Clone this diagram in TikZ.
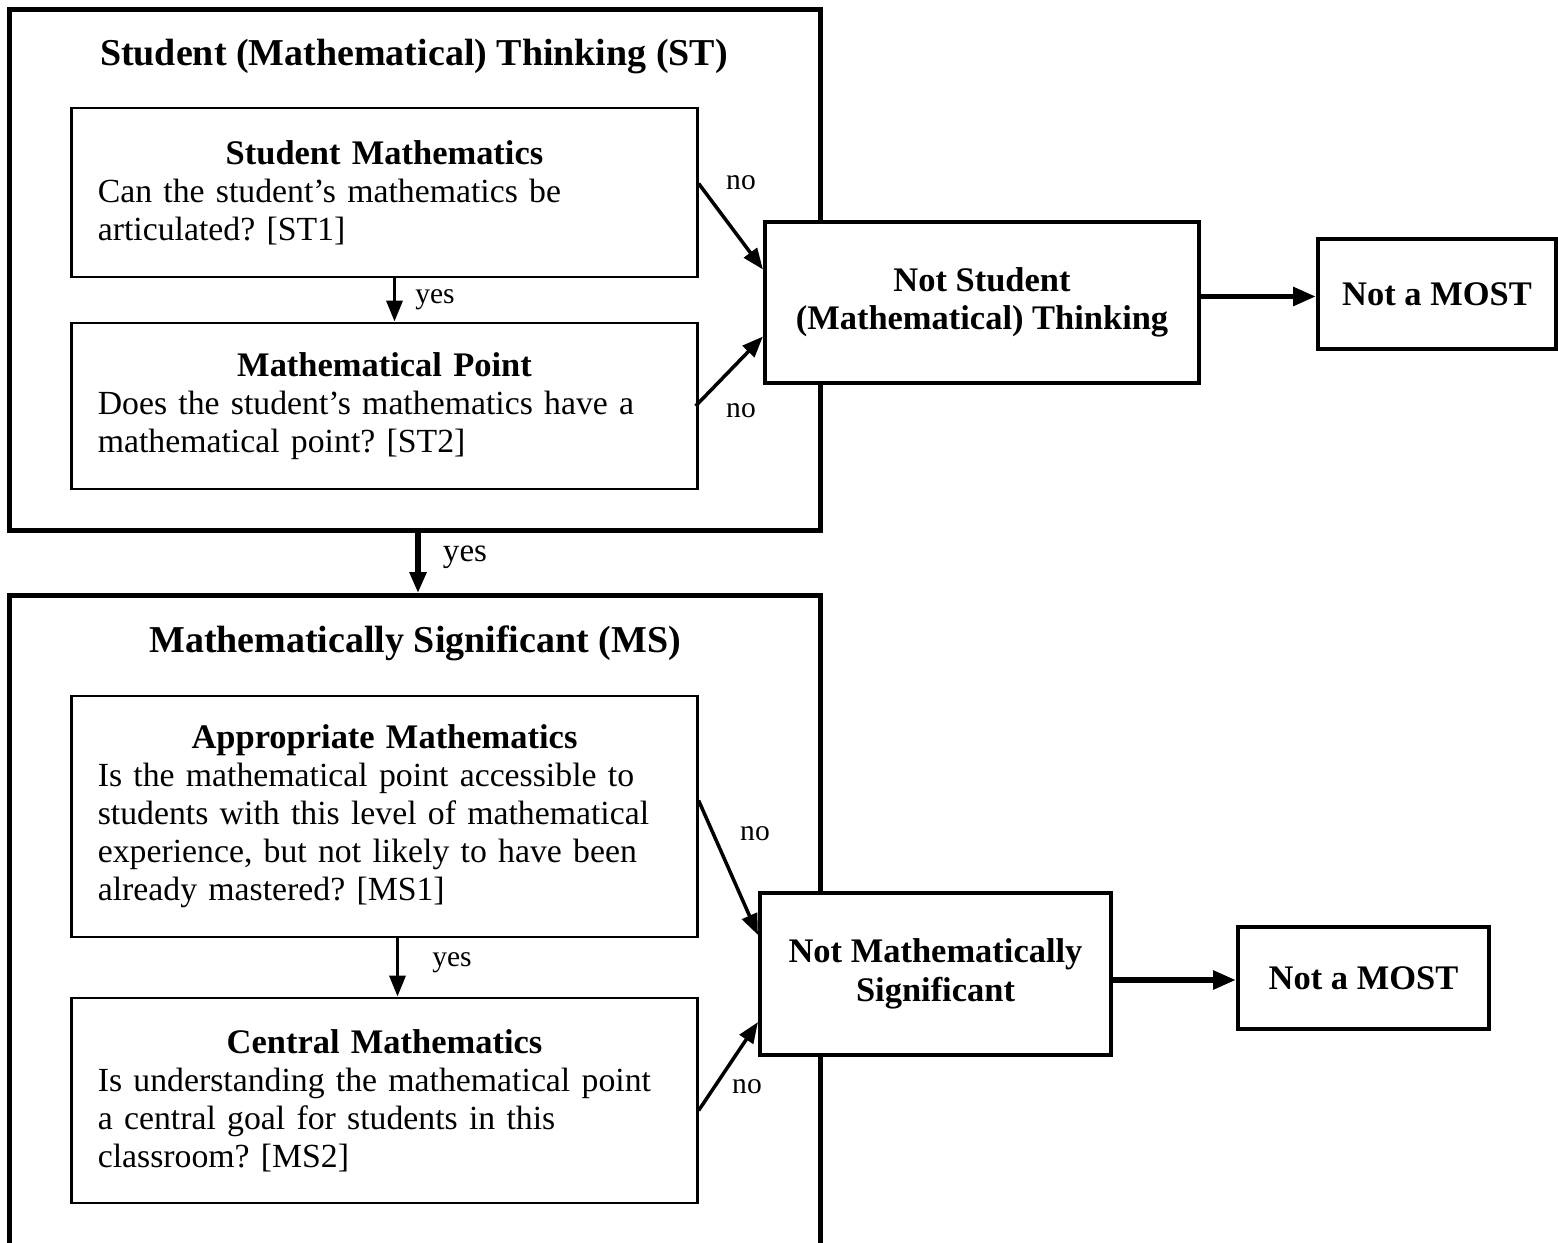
\documentclass[tikz,border=0pt]{standalone}
\usepackage{fontspec}
\setmainfont{Liberation Serif}
\usetikzlibrary{arrows.meta, calc}
\frenchspacing

\begin{document}
\begin{tikzpicture}[x=0.01cm, y=-0.01cm, line join=miter,
    marco/.style={draw, line width=1.5pt, minimum width=8.1cm, inner sep=0pt},
    caja/.style={draw, line width=0.8pt, fill=white, minimum width=6.25cm,
        text width=5.73cm, inner sep=0pt, font=\fontsize{9.6}{10.8}\selectfont},
    final/.style={draw, line width=1.1pt, fill=white, align=center, inner sep=0pt,
        font=\fontsize{9.8}{11}\selectfont\bfseries},
    titulo/.style={font=\fontsize{10.8}{12}\selectfont\bfseries},
    flecha/.style={-{Triangle[length=0.21cm, width=0.16cm]}, line width=1pt},
    gruesa/.style={-{Triangle[length=0.23cm, width=0.18cm]}, line width=1.6pt},
    etiq/.style={font=\fontsize{8.4}{10}\selectfont}]

    % Marco de la imagen
    \useasboundingbox (0,0) rectangle (1558,1243);
    \fill[white] (0,0) rectangle (1558,1243);

    % Bloques exteriores
    \node[marco, minimum height=5.2cm] (st) at (415,270) {};
    \node[marco, minimum height=6.74cm] (ms) at (415,933) {};
    \node[titulo] (tst) at (414,57) {Student (Mathematical) Thinking (ST)};
    \node[titulo] (tms) at (415,643) {Mathematically Significant (MS)};

    % Preguntas ST
    \node[caja, minimum height=1.69cm] (sm) at (384.5,192.5)
        {{\centering\fontsize{9.8}{10.8}\selectfont\bfseries Student Mathematics\par}
         \raggedright Can the student’s mathematics be\\ articulated? [ST1]};
    \node[caja, minimum height=1.66cm] (mp) at (384.5,406)
        {{\centering\fontsize{9.8}{10.8}\selectfont\bfseries Mathematical Point\par}
         \raggedright Does the student’s mathematics have a\\ mathematical point? [ST2]};

    % Preguntas MS
    \node[caja, minimum height=2.41cm] (am) at (384.5,816.5)
        {{\centering\fontsize{9.8}{10.8}\selectfont\bfseries Appropriate Mathematics\par}
         \raggedright Is the mathematical point accessible to\\ students with this level of mathematical\\
         experience, but not likely to have been\\ already mastered? [MS1]};
    \node[caja, minimum height=2.05cm] (cm) at (384.5,1100.5)
        {{\centering\fontsize{9.8}{10.8}\selectfont\bfseries Central Mathematics\par}
         \raggedright Is understanding the mathematical point\\ a central goal for students in this\\
         classroom? [MS2]};

    % Resultados
    \node[final, minimum width=4.34cm, minimum height=1.61cm] (nst) at (982,302.5)
        {Not Student\\ (Mathematical) Thinking};
    \node[final, minimum width=2.38cm, minimum height=1.1cm] (most1) at (1437,294) {Not a MOST};
    \node[final, minimum width=3.51cm, minimum height=1.62cm] (nms) at (935.5,974)
        {Not Mathematically\\ Significant};
    \node[final, minimum width=2.51cm, minimum height=1.02cm] (most2) at (1363.5,978) {Not a MOST};

    % Flechas "yes"
    \draw[flecha] ([xshift=0.1cm]sm.south) -- ([xshift=0.1cm]mp.north);
    \draw[flecha] ([xshift=0.13cm]am.south) -- ([xshift=0.13cm]cm.north);
    \draw[flecha, line width=1.5pt] ([xshift=0.03cm]st.south) -- ([xshift=0.03cm]ms.north);
    \node[etiq] at (435,300) {yes};
    \node[etiq] at (452,963) {yes};
    \node[etiq, font=\fontsize{9.4}{10}\selectfont] at (465,557) {yes};

    % Flechas "no"
    \draw[flecha] ([yshift=0.09cm]sm.east) -- ([yshift=0.33cm]nst.west);
    \draw[flecha] ([xshift=-0.03cm]mp.east) -- ([yshift=-0.34cm]nst.west);
    \draw[flecha] ([yshift=0.16cm]am.east) -- ([yshift=0.39cm]nms.west);
    \draw[flecha] ([yshift=-0.1cm]cm.east) -- ([yshift=-0.48cm]nms.west);
    \node[etiq] at (741,183) {no};
    \node[etiq] at (741,411) {no};
    \node[etiq] at (755,834) {no};
    \node[etiq] at (747,1087) {no};

    % Hacia "Not a MOST"
    \draw[gruesa] ([yshift=0.06cm]nst.east) -- ([yshift=0.06cm]nst.east -| most1.west);
    \draw[gruesa] ([yshift=-0.06cm]nms.east) -- ([yshift=-0.06cm]nms.east -| most2.west);

\end{tikzpicture}
\end{document}
